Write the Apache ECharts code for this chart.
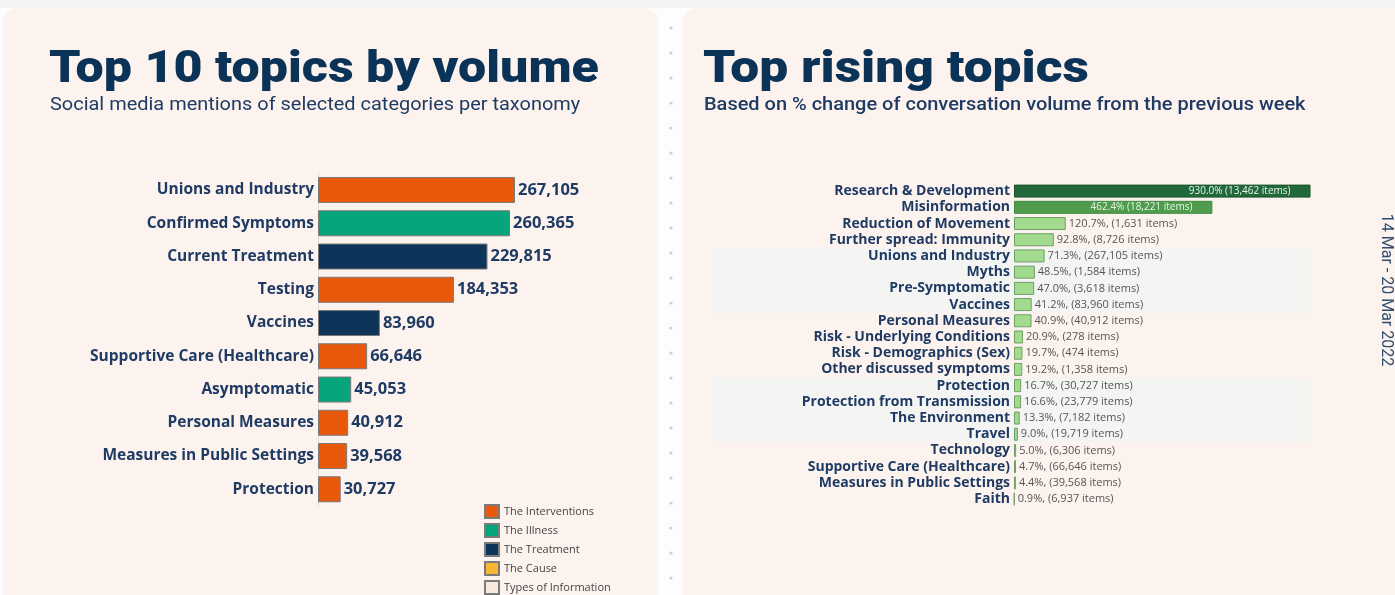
<!DOCTYPE html>
<html>
<head>
<meta charset="utf-8">
<title>Top topics</title>
<script src="https://cdn.jsdelivr.net/npm/echarts@6/dist/echarts.min.js"></script>
<style>
  html, body { margin: 0; padding: 0; background: #fdfdfd; }
  #chart { width: 1395px; height: 595px; }
</style>
</head>
<body>
<div id="chart"></div>
<script>
// left: top 10 topics by volume
const volumeTopics = ['Unions and Industry', 'Confirmed Symptoms', 'Current Treatment', 'Testing', 'Vaccines',
  'Supportive Care (Healthcare)', 'Asymptomatic', 'Personal Measures', 'Measures in Public Settings', 'Protection']
const volumeValues = [267105, 260365, 229815, 184353, 83960, 66646, 45053, 40912, 39568, 30727]
const volumeGroups = ['The Interventions', 'The Illness', 'The Treatment', 'The Interventions', 'The Treatment',
  'The Interventions', 'The Illness', 'The Interventions', 'The Interventions', 'The Interventions']
const groupNames = ['The Interventions', 'The Illness', 'The Treatment', 'The Cause', 'Types of Information']
const groupColors = ['#e8590c', '#07a57b', '#0c3559', '#f8b732', '#f8e8de']

// right: top rising topics
const risingTopics = ['Research & Development', 'Misinformation', 'Reduction of Movement', 'Further spread: Immunity',
  'Unions and Industry', 'Myths', 'Pre-Symptomatic', 'Vaccines', 'Personal Measures', 'Risk - Underlying Conditions',
  'Risk - Demographics (Sex)', 'Other discussed symptoms', 'Protection', 'Protection from Transmission',
  'The Environment', 'Travel', 'Technology', 'Supportive Care (Healthcare)', 'Measures in Public Settings', 'Faith']
const risingPct = [930.0, 462.4, 120.7, 92.8, 71.3, 48.5, 47.0, 41.2, 40.9, 20.9, 19.7, 19.2, 16.7, 16.6, 13.3, 9.0, 5.0, 4.7, 4.4, 0.9]
const risingItems = [13462, 18221, 1631, 8726, 267105, 1584, 3618, 83960, 40912, 278, 474, 1358, 30727, 23779, 7182, 19719, 6306, 66646, 39568, 6937]

const dateRange = '14 Mar - 20 Mar 2022'

const navy = '#0b3358'
const labelColor = '#1f3b64'
const panelColor = '#fcf3ee'
const fontMain = "'Open Sans', 'Noto Sans', sans-serif"

const chart = echarts.init(document.getElementById('chart'))

// one stacked series per taxonomy so the legend gets its swatches
const volumeSeries = groupNames.map((g, gi) => ({
  name: g,
  type: 'bar',
  stack: 'vol',
  xAxisIndex: 0,
  yAxisIndex: 0,
  barWidth: 26,
  itemStyle: { color: groupColors[gi], borderColor: '#7a7a7a', borderWidth: 1 },
  label: {
    show: true,
    position: 'right',
    distance: 3,
    color: labelColor,
    fontFamily: fontMain,
    fontWeight: 'bold',
    fontSize: 16.5,
    formatter: p => p.value.toLocaleString('en-US')
  },
  data: volumeValues.map((v, i) => volumeGroups[i] === g ? v : '-')
}))

const risingData = risingPct.map((v, i) => {
  const inside = i < 2
  const txt = inside
    ? v.toFixed(1) + '% (' + risingItems[i].toLocaleString('en-US') + ' items)'
    : v.toFixed(1) + '%, (' + risingItems[i].toLocaleString('en-US') + ' items)'
  return {
    value: v,
    itemStyle: {
      color: i === 0 ? '#21693b' : i === 1 ? '#4f9d4c' : '#a2da8e',
      borderColor: i === 0 ? '#1a5530' : i === 1 ? '#3f8a3d' : '#6f9f66',
      borderWidth: 1
    },
    label: inside
      ? { position: 'insideRight', distance: 20, color: '#e8f3e8', fontSize: 10, formatter: txt }
      : { position: 'right', distance: 3, color: '#555', fontSize: 11, formatter: txt }
  }
})

const option = {
  backgroundColor: 'transparent',
  animation: false,
  legend: {
    data: groupNames,
    orient: 'vertical',
    left: 484,
    top: 504,
    height: 120,
    padding: 0,
    icon: 'rect',
    itemWidth: 14,
    itemHeight: 13,
    itemGap: 4,
    selectedMode: false,
    textStyle: { color: '#444', fontSize: 11, fontFamily: fontMain }
  },
  grid: [
    { left: 318, top: 173.4, width: 295, height: 332.5 },
    { left: 712, top: 183, width: 598, height: 324.2 },
    { left: 1014, top: 183, width: 296, height: 324.2 }
  ],
  xAxis: [
    { gridIndex: 0, type: 'value', min: 0, max: 400000, show: false },
    { gridIndex: 1, type: 'value', min: 0, max: 1, show: false },
    { gridIndex: 2, type: 'value', min: 0, max: 690, show: false }
  ],
  yAxis: [
    {
      gridIndex: 0,
      type: 'category',
      inverse: true,
      data: volumeTopics,
      axisTick: { show: false },
      axisLine: { show: true, lineStyle: { color: '#dcdcdc' } },
      axisLabel: { color: labelColor, fontFamily: fontMain, fontWeight: 'bold', fontSize: 15.5, margin: 4, interval: 0 }
    },
    {
      // banding behind every second block of four rows
      gridIndex: 1,
      type: 'category',
      inverse: true,
      data: risingTopics,
      axisTick: { show: false },
      axisLine: { show: false },
      axisLabel: { show: false },
      splitArea: { show: true, interval: 3, areaStyle: { color: ['rgba(0,0,0,0)', '#f4f4f3'] } }
    },
    {
      gridIndex: 2,
      type: 'category',
      inverse: true,
      data: risingTopics,
      axisTick: { show: false },
      axisLine: { show: false },
      axisLabel: { color: labelColor, fontFamily: fontMain, fontWeight: 'bold', fontSize: 14, margin: 4, interval: 0 }
    }
  ],
  series: [
    ...volumeSeries,
    {
      name: 'Rising',
      type: 'bar',
      xAxisIndex: 2,
      yAxisIndex: 2,
      barWidth: 13,
      clip: true,
      label: { show: true, fontFamily: fontMain },
      data: risingData
    }
  ],
  graphic: [
    { type: 'rect', z: -20, shape: { x: 0, y: 0, width: 1395, height: 8 }, style: { fill: '#f3f4f6' } },
    { type: 'rect', z: -20, shape: { x: 3, y: 8, width: 655, height: 610, r: 14 }, style: { fill: panelColor } },
    { type: 'rect', z: -20, shape: { x: 683, y: 8, width: 730, height: 610, r: 14 }, style: { fill: panelColor } },
    ...Array.from({ length: 23 }, (_, k) => ({
      type: 'circle', z: -10, shape: { cx: 671, cy: 28 + k * 25, r: 1.6 }, style: { fill: '#cfcfcf' }
    })),
    {
      type: 'text', x: 49, y: 71, z: 10, scaleX: 1.14,
      style: { text: 'Top 10 topics by volume', fill: navy, font: "900 44px Roboto", align: 'left', verticalAlign: 'middle' }
    },
    {
      type: 'text', x: 50, y: 105, z: 10, scaleX: 1.05,
      style: { text: 'Social media mentions of selected categories per taxonomy', fill: labelColor, font: "19px Roboto", align: 'left', verticalAlign: 'middle' }
    },
    {
      type: 'text', x: 703, y: 71, z: 10, scaleX: 1.17,
      style: { text: 'Top rising topics', fill: navy, font: "900 44px Roboto", align: 'left', verticalAlign: 'middle' }
    },
    {
      type: 'text', x: 704, y: 105, z: 10, scaleX: 1.11,
      style: { text: 'Based on % change of conversation volume from the previous week', fill: labelColor, font: "500 18px Roboto", align: 'left', verticalAlign: 'middle' }
    },
    {
      type: 'text', x: 1386, y: 290, z: 10, rotation: -Math.PI / 2,
      style: { text: dateRange, fill: '#2d4c6e', font: "16px Roboto", align: 'center', verticalAlign: 'middle' }
    }
  ]
}

chart.setOption(option)
window.addEventListener('resize', () => chart.resize())
</script>
</body>
</html>
